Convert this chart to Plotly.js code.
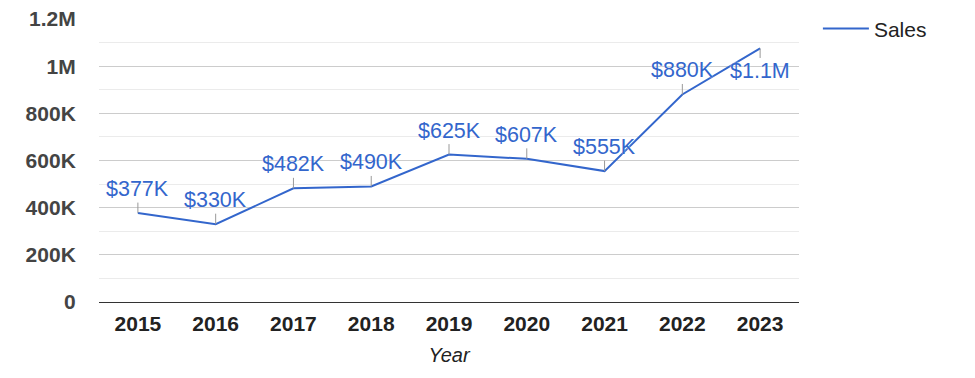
<!DOCTYPE html>
<html>
<head>
<meta charset="utf-8">
<script src="https://cdn.plot.ly/plotly-3.0.1.min.js"></script>
<style>html,body{margin:0;padding:0;background:#fff;}#chart{width:975px;height:378px;}</style>
</head>
<body>
<div id="chart"></div>
<script>
const years = ["2015","2016","2017","2018","2019","2020","2021","2022","2023"];
const sales = [377000, 330000, 482000, 490000, 625000, 607000, 555000, 880000, 1075000];
const salesLabels = ["$377K","$330K","$482K","$490K","$625K","$607K","$555K","$880K","$1.1M"];
const labelBelow = [false, false, false, false, false, false, false, false, true];
const yTickVals = [0, 200000, 400000, 600000, 800000, 1000000, 1200000];
const yTickText = ["0","200K","400K","600K","800K","1M","1.2M"];
const yMinorVals = [100000, 300000, 500000, 700000, 900000, 1100000];

const FONT = '"Liberation Sans", Arial, sans-serif';
const BLUE = '#3366cc';

const annotations = years.map((y, i) => ({
  x: i, y: sales[i], xref: 'x', yref: 'y',
  text: salesLabels[i],
  showarrow: true, arrowhead: 0, arrowwidth: 1, arrowcolor: '#999999',
  ax: 0, ay: labelBelow[i] ? 23 : -24, standoff: 0,
  font: {family: FONT, size: 21.5, color: BLUE, shadow: '0px 0px 2px #ffffff'}
}));

const trace = {
  x: years, y: sales, type: 'scatter', mode: 'lines', name: 'Sales',
  line: {color: BLUE, width: 2}, hoverinfo: 'none'
};

const layout = {
  width: 975, height: 378,
  margin: {l: 99, r: 176, t: 19, b: 76, pad: 0, autoexpand: false},
  paper_bgcolor: '#fff', plot_bgcolor: '#fff',
  font: {family: FONT, size: 21, color: '#222'},
  showlegend: true,
  legend: {x: 1.027, xanchor: 'left', y: 1.038, yanchor: 'top', font: {family: FONT, size: 21, color: '#222'}, itemwidth: 46, bgcolor: 'rgba(0,0,0,0)'},
  xaxis: {
    type: 'category', range: [-0.5, 8.5], showgrid: false,
    showline: true, linecolor: '#333', linewidth: 1,
    ticks: 'outside', ticklen: 3, tickcolor: 'rgba(0,0,0,0)',
    tickfont: {family: FONT, size: 21, color: '#222', weight: 'bold'},
    title: {text: 'Year', font: {family: FONT, size: 20, color: '#222', style: 'italic'}, standoff: 13},
    fixedrange: true
  },
  yaxis: {
    range: [0, 1200000], tickmode: 'array', tickvals: yTickVals, ticktext: yTickText,
    showgrid: true, gridcolor: '#cccccc', gridwidth: 1,
    zeroline: true, zerolinecolor: '#333', zerolinewidth: 1,
    minor: {tickmode: 'array', tickvals: yMinorVals, showgrid: true, gridcolor: '#ebebeb', gridwidth: 1, ticks: ''},
    ticks: 'outside', ticklen: 18, tickcolor: 'rgba(0,0,0,0)',
    tickfont: {family: FONT, size: 21, color: '#444', weight: 'bold'},
    fixedrange: true
  },
  annotations: annotations
};

Plotly.newPlot('chart', [trace], layout, {displayModeBar: false, staticPlot: true});
</script>
</body>
</html>
